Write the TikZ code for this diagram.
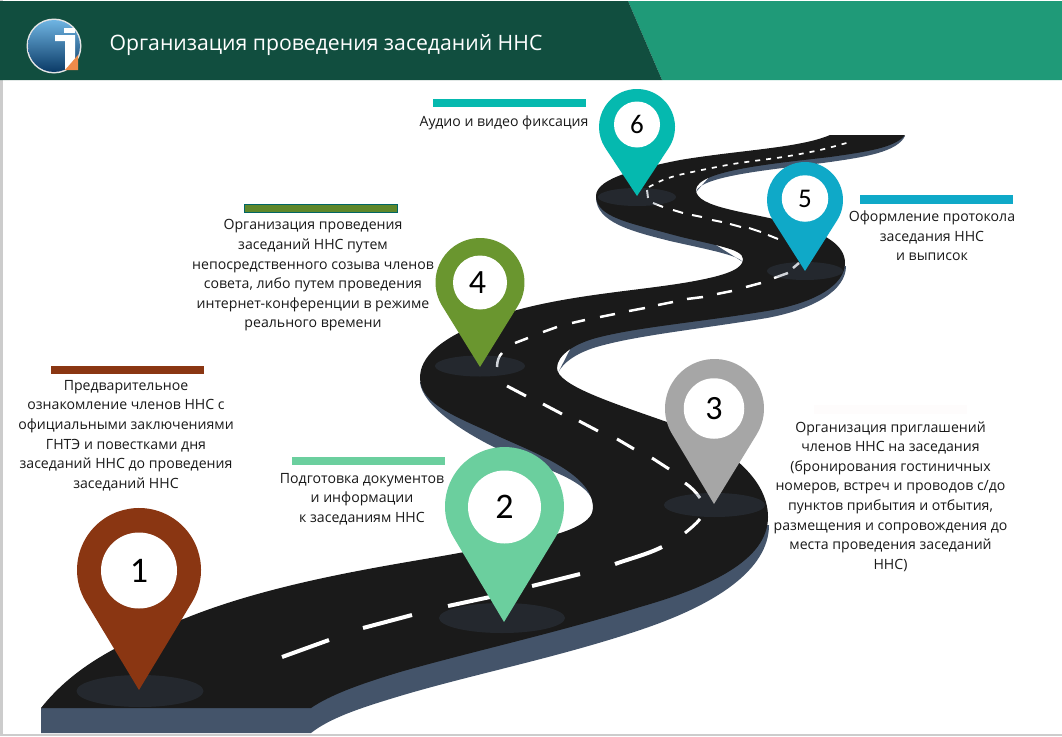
\documentclass[tikz,border=0pt]{standalone}
\usepackage{fontspec}
\setmainfont{Open Sans}
\newfontfamily\numfont{Carlito}
\usepackage{xcolor}
\definecolor{headDark}{HTML}{114E3F}
\definecolor{headLight}{HTML}{1F9A78}
\definecolor{roadTop}{HTML}{1A1A1A}
\definecolor{roadSide}{HTML}{44546A}
\definecolor{pinOne}{HTML}{8A3612}
\definecolor{pinTwo}{HTML}{6BCF9E}
\definecolor{pinThree}{HTML}{A6A6A6}
\definecolor{pinFour}{HTML}{6A962F}
\definecolor{pinFive}{HTML}{0FA9C8}
\definecolor{pinSix}{HTML}{05B9AF}
\definecolor{logoTop}{HTML}{6FB4E2}
\definecolor{logoMid}{HTML}{0F74B2}
\definecolor{logoLow}{HTML}{0A3A66}
\definecolor{logoCorner}{HTML}{EE8B4A}
\usetikzlibrary{%
    positioning,
    shapes.geometric
}

\begin{document}
\begin{tikzpicture}[x=1pt, y=-1pt,
                note/.style={align=center, inner sep=0pt, text=black!90, font=\fontsize{14.1}{19.6}\selectfont},
                bar/.style={inner sep=0pt, minimum width=153pt, minimum height=8.5pt},
                head/.style={circle, fill=white, inner sep=0pt, text=black},
                foot/.style={ellipse, fill=roadSide, fill opacity=.25, inner sep=0pt},
                lane/.style={draw=white, line width=#1}
            ]
            \useasboundingbox (0,0) rectangle (1062,736);
            \fill[white] (0,0) rectangle (1062,736);
            %, frame of the slide
            \fill[black!20] (0,0) rectangle (2.5,736);
            \fill[black!20] (0,734) rectangle (1062,736);

            % header
            \fill[headLight] (628,1) -- (1062,1) -- (1062,80) -- (662,80) -- cycle;
            \fill[headDark] (0,1) -- (628,1) -- (662,80) -- (0,80) -- cycle;
            \fill[white!90!black] (54,46) circle (27.5pt);
            \shade[top color=logoTop, middle color=logoMid, bottom color=logoLow] (54,46) circle (26pt);
            \fill[white] (64,28) rectangle (75,33);
            \fill[white] (55,35) -- (75,35) -- (75,62) -- (65,70) -- (65,41) -- (55,41) -- cycle;
            \fill[logoCorner] (65,70) -- (78,70) -- (78,55) -- cycle;
            \node (title) [inner sep=0pt, text=white, font=\fontsize{21.2}{24}\selectfont] at (326,45.5) {Организация проведения заседаний ННС};

            % road sides
            \fill[roadSide] (41,708) -- (41,733) -- (311,733)
                .. controls (330,718) and (360,708) .. (400,696)
                .. controls (470,675) and (560,657) .. (640,630)
                .. controls (715,605) and (769,570) .. (769,525)
                -- (650,540) -- (450,620) -- (250,640) -- cycle;
            \fill[roadSide] (420,382)
                .. controls (422,405) and (462,432) .. (500,450)
                .. controls (540,468) and (594,480) .. (594,508)
                -- (585,470) -- (480,400) -- (440,380) -- cycle;
            \fill[roadSide] (846,266)
                .. controls (846,290) and (815,309) .. (767,318)
                .. controls (700,329) and (640,335) .. (600,346)
                .. controls (578,352) and (563,362) .. (558,373)
                -- (580,330) -- (700,300) -- (800,280) -- cycle;
            \fill[roadSide] (596,198)
                .. controls (597,222) and (630,231) .. (670,241)
                .. controls (710,250) and (737,255) .. (743,262)
                -- (700,235) -- (620,200) -- cycle;
            \fill[roadSide] (905,136)
                .. controls (897,152) and (865,157) .. (830,162)
                .. controls (780,169) and (700,175) .. (696,192)
                -- (720,165) -- (850,145) -- cycle;

            % road surface
            \fill[roadTop] (41,708)
                .. controls (75,665) and (125,640) .. (186,618)
                .. controls (280,580) and (400,564) .. (459,553)
                .. controls (510,544) and (593,535) .. (593,508)
                .. controls (593,475) and (540,455) .. (500,437)
                .. controls (460,418) and (420,405) .. (420,378)
                .. controls (420,345) and (470,325) .. (517,310)
                .. controls (580,293) and (650,290) .. (700,280)
                .. controls (730,274) and (743,268) .. (743,259)
                .. controls (743,248) and (710,245) .. (670,234)
                .. controls (630,223) and (596,217) .. (596,196)
                .. controls (596,178) and (640,168) .. (680,160)
                .. controls (740,150) and (800,148) .. (830,135)
                -- (905,135)
                .. controls (895,148) and (865,152) .. (830,157)
                .. controls (780,163) and (696,170) .. (696,190)
                .. controls (696,208) and (750,212) .. (790,223)
                .. controls (825,233) and (845,245) .. (845,263)
                .. controls (845,285) and (815,303) .. (767,311)
                .. controls (700,322) and (640,327) .. (600,337)
                .. controls (575,343) and (557,355) .. (557,368)
                .. controls (557,385) and (610,402) .. (667,422)
                .. controls (720,442) and (768,475) .. (768,517)
                .. controls (768,560) and (710,587) .. (640,607)
                .. controls (560,632) and (470,652) .. (400,672)
                .. controls (360,684) and (330,695) .. (311,708)
                -- cycle;

            % lane marks
            \draw[lane=4pt] (282,657) -- (329,640) (363,628) -- (412,615) (448,606) -- (490,597) (532,586) -- (580,574) (615,564) .. controls (632,558) and (648,554) .. (662,547);
            \draw[lane=3pt] (685,533) .. controls (691,528) and (696,524) .. (700,519) (700,498) .. controls (696,492) and (691,487) .. (685,483) (669,469) -- (652,458) (634,449) -- (617,439) (598,431) -- (579,421) (562,414) -- (543,404) (526,396) -- (507,386);
            \draw[lane=2.5pt] (497,367) .. controls (497,361) and (499,356) .. (502,353) (515,343) -- (528,338) (543,332) -- (557,327) (572,323) -- (585,320) (600,317) -- (615,314) (629,311) -- (645,308) (658,305) -- (673,302) (687,299) -- (703,297) (717,294) -- (732,291) (746,287) -- (761,283) (774,278) -- (788,273) (793,268) -- (799,263);
            \draw[lane=2pt] (778,239) -- (768,235) (761,232) -- (749,228) (741,227) -- (730,224) (722,222) -- (712,220) (702,217) -- (692,215) (683,213) -- (673,210) (663,207) -- (653,203) (648,198) -- (647,190);
            \draw[draw=white, line width=1.7pt, dash pattern=on 5pt off 6pt] plot[smooth] coordinates {(649,187) (663,180) (683,174) (733,164) (783,157) (820,150) (850,142)};

            % feet of the pins
            \node (foot1) [foot, minimum width=127pt, minimum height=32pt] at (140,691) {};
            \node (foot2) [foot, minimum width=126pt, minimum height=30pt] at (502,618) {};
            \node (foot3) [foot, minimum width=101pt, minimum height=24pt] at (714.5,505) {};
            \node (foot4) [foot, minimum width=90pt, minimum height=21pt] at (480,366) {};
            \node (foot5) [foot, minimum width=76pt, minimum height=18pt] at (805,271) {};
            \node (foot6) [foot, minimum width=78pt, minimum height=18pt] at (637,197) {};

            % pins
            \fill[pinOne] (139,570) ++(-31:62pt) arc[start angle=-31, end angle=211, radius=62pt] -- (139,690) -- cycle;
            \fill[pinTwo] (504.5,506.5) ++(-31:59.5pt) arc[start angle=-31, end angle=211, radius=59.5pt] -- (504,622) -- cycle;
            \fill[pinThree] (714.5,408.5) ++(-31:49.5pt) arc[start angle=-31, end angle=211, radius=49.5pt] -- (714,504) -- cycle;
            \fill[pinFour] (480,282.5) ++(-32:44.5pt) arc[start angle=-32, end angle=212, radius=44.5pt] -- (480,367) -- cycle;
            \fill[pinFive] (805,200) ++(-32:38pt) arc[start angle=-32, end angle=212, radius=38pt] -- (805,271) -- cycle;
            \fill[pinSix] (637,127) ++(-33:38pt) arc[start angle=-33, end angle=213, radius=38pt] -- (637,196) -- cycle;

            \node (head1) [head, minimum size=76pt, font=\numfont\fontsize{36}{36}\selectfont] at (139,570.5) {1};
            \node (head2) [head, minimum size=73pt, font=\numfont\fontsize{36}{36}\selectfont] at (504.5,507) {2};
            \node (head3) [head, minimum size=60.5pt, font=\numfont\fontsize{34}{34}\selectfont] at (714,408.5) {3};
            \node (head4) [head, minimum size=54pt, font=\numfont\fontsize{34}{34}\selectfont] at (480,282.5) {\kern-5pt 4};
            \node (head5) [head, minimum size=46.5pt, font=\numfont\fontsize{27}{27}\selectfont] at (805,198.5) {5};
            \node (head6) [head, minimum size=46pt, font=\numfont\fontsize{27}{27}\selectfont] at (637,124.5) {6};

            % bars
            \node (bar1) [bar, fill=pinOne] at (127,370) {};
            \node (bar2) [bar, fill=pinTwo] at (368.5,461) {};
            \node (bar3) [bar, fill=black!32!red!2!white!68] at (890.5,409.5) {};
            \node (bar4) [bar, fill=pinFour!90!black, draw=teal!80!black, line width=.6pt] at (321,208.5) {};
            \node (bar5) [bar, fill=pinFive] at (936,199.5) {};
            \node (bar6) [bar, fill=pinSix] at (509.5,103) {};

            % texts
            \node (text1) [note] at (126,435.5) {Предварительное \\ ознакомление членов ННС с \\ официальными заключениями \\ ГНТЭ и повестками дня \\ заседаний ННС до проведения \\ заседаний ННС};
            \node (text2) [note] at (362,499) {Подготовка документов \\ и информации \\ к заседаниям ННС};
            \node (text3) [note] at (890.5,496.5) {Организация приглашений \\ членов ННС на заседания \\ (бронирования гостиничных \\ номеров, встреч и проводов с/до \\ пунктов прибытия и отбытия, \\ размещения и сопровождения до \\ места проведения заседаний \\ ННС)};
            \node (text4) [note] at (313,275.5) {Организация проведения \\ заседаний ННС путем \\ непосредственного созыва членов \\ совета, либо путем проведения \\ интернет-конференции в режиме \\ реального времени};
            \node (text5) [note] at (932,236) {Оформление протокола \\ заседания ННС \\ и выписок};
            \node (text6) [note] at (504,122.5) {Аудио и видео фиксация};
        \end{tikzpicture}
\end{document}
